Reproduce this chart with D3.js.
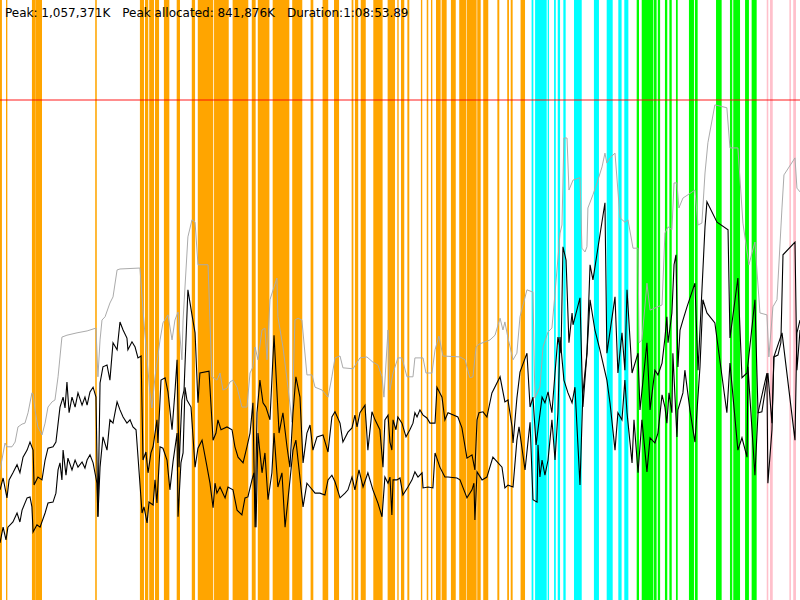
<!DOCTYPE html>
<html><head><meta charset="utf-8">
<script src="https://cdn.jsdelivr.net/npm/d3@7"></script>
<style>html,body{margin:0;padding:0;background:#fff}svg{display:block}</style>
</head><body>
<script>
// time in seconds, memory in thousands of K
const durationSec = 4133.89;
const peakHeap = 1057.371;
const memAxisTop = 1268.85;
const labels = ["Peak: 1,057,371K", "Peak allocated: 841,876K", "Duration:1:08:53.89"];

// GC events [start s, end s]
const youngGC = [[0,10],[31,38],[165,181],[182,217],[492,500],[723,744],[749,766],[771,796],[801,822],[847,875],[913,930],[991,1008],[1022,1102],[1106,1182],[1202,1283],[1301,1321],[1332,1392],[1409,1495],[1510,1562],[1605,1619],[1667,1696],[1726,1752],[1817,1826],[1834,1851],[1864,1890],[1929,1977],[2003,2041],[2053,2060],[2072,2089],[2105,2115],[2175,2182],[2205,2213],[2227,2234],[2253,2277],[2282,2308],[2330,2355],[2373,2408],[2411,2463],[2466,2484],[2497,2523],[2570,2580],[2621,2630],[2639,2649],[2690,2713]];
const mixedGC = [[2747,2756],[2765,2825],[2830,2837],[2863,2872],[2882,2894],[2911,2923],[2966,3006],[3069,3095],[3135,3166],[3195,3212],[3226,3247]];
const concGC = [[3290,3302],[3316,3376],[3379,3393],[3399,3411],[3436,3448],[3459,3471],[3493,3502],[3560,3586],[3591,3605],[3700,3729],[3772,3784],[3789,3824],[3850,3870],[3884,3910]];
const remarkGC = [[3962,3970],[3979,3993],[4079,4087],[4099,4113]];

// committed heap size [t, v]
const heapSize = [[0,275],[26,332],[36,324],[62,324],[78,334],[93,366],[114,372],[129,374],[145,396],[165,438],[171,436],[181,402],[196,366],[217,349],[233,374],[248,408],[269,419],[284,423],[300,472],[320,556],[346,560],[398,565],[450,569],[496,575],[506,472],[517,550],[527,592],[543,599],[568,628],[584,641],[605,698],[620,700],[723,702],[739,613],[760,508],[775,438],[785,406],[801,472],[827,550],[842,586],[868,603],[889,550],[904,592],[920,609],[940,508],[946,592],[971,768],[992,804],[1008,799],[1023,709],[1075,709],[1095,472],[1121,465],[1137,480],[1152,444],[1173,448],[1188,461],[1204,465],[1225,450],[1250,408],[1276,408],[1292,480],[1307,493],[1318,535],[1333,508],[1354,571],[1369,575],[1380,508],[1395,635],[1431,681],[1436,599],[1462,535],[1488,450],[1509,376],[1524,592],[1540,596],[1560,592],[1586,476],[1612,476],[1628,450],[1664,444],[1695,429],[1715,472],[1731,512],[1757,516],[1772,491],[1824,489],[1860,512],[1896,514],[1927,503],[1953,497],[1974,472],[1984,429],[2005,571],[2015,444],[2031,480],[2056,512],[2077,512],[2103,472],[2134,472],[2144,512],[2186,512],[2201,480],[2232,480],[2248,529],[2268,558],[2289,516],[2377,514],[2403,508],[2428,470],[2444,472],[2460,535],[2475,541],[2532,550],[2558,560],[2584,596],[2599,571],[2609,588],[2625,554],[2651,508],[2671,522],[2687,599],[2723,656],[2754,651],[2764,427],[2790,450],[2806,535],[2832,567],[2852,575],[2868,649],[2894,776],[2904,793],[2914,977],[2930,977],[2940,867],[2961,888],[2997,893],[3007,744],[3023,736],[3033,747],[3038,829],[3064,857],[3085,882],[3111,916],[3126,945],[3136,924],[3152,935],[3178,945],[3204,808],[3229,799],[3245,804],[3271,744],[3297,744],[3302,544],[3317,550],[3343,670],[3359,613],[3421,624],[3436,776],[3452,789],[3472,783],[3483,882],[3498,882],[3508,829],[3529,850],[3555,857],[3591,867],[3607,793],[3627,797],[3643,903],[3658,967],[3694,1047],[3756,1041],[3772,956],[3813,956],[3839,797],[3870,709],[3901,757],[3927,607],[3963,603],[3973,514],[3994,620],[4015,635],[4041,831],[4051,899],[4108,935],[4118,871],[4134,863]];

// allocated (used before GC) [t, v]
const allocated = [[0,233],[16,258],[36,216],[47,254],[67,269],[88,286],[103,269],[119,302],[140,317],[155,334],[171,317],[176,243],[196,260],[217,254],[233,296],[248,321],[274,324],[289,334],[310,408],[326,429],[336,406],[346,461],[357,396],[372,429],[388,408],[403,438],[424,412],[439,429],[450,412],[465,440],[481,450],[496,429],[506,176],[517,459],[532,493],[553,497],[568,465],[584,544],[605,529],[620,588],[636,571],[656,554],[661,529],[682,546],[698,535],[713,512],[729,516],[739,296],[754,313],[765,269],[780,311],[791,324],[811,381],[816,332],[832,465],[853,470],[868,440],[889,360],[904,440],[915,508],[925,281],[940,423],[951,444],[971,656],[992,603],[1008,565],[1023,417],[1033,480],[1080,484],[1101,338],[1116,353],[1126,381],[1142,360],[1173,366],[1199,360],[1214,324],[1230,302],[1256,290],[1276,324],[1292,353],[1307,417],[1318,154],[1328,396],[1343,465],[1359,417],[1374,408],[1395,381],[1416,560],[1442,353],[1462,396],[1483,324],[1498,281],[1514,396],[1529,472],[1550,429],[1566,290],[1586,353],[1602,370],[1617,317],[1638,345],[1669,349],[1695,313],[1715,387],[1731,398],[1757,374],[1772,334],[1798,355],[1819,364],[1834,391],[1845,366],[1860,396],[1886,412],[1901,317],[1922,398],[1938,381],[1963,360],[1979,281],[1989,381],[2005,391],[2015,334],[2025,317],[2031,381],[2046,360],[2056,387],[2077,374],[2098,345],[2118,360],[2134,374],[2144,396],[2155,387],[2170,402],[2186,391],[2206,385],[2222,374],[2248,374],[2258,450],[2284,429],[2299,381],[2315,396],[2366,387],[2387,364],[2413,300],[2439,307],[2454,275],[2465,381],[2475,396],[2496,398],[2516,387],[2542,438],[2584,472],[2609,419],[2625,423],[2646,366],[2651,332],[2671,427],[2687,482],[2723,522],[2739,408],[2754,429],[2770,328],[2801,429],[2816,417],[2832,440],[2852,396],[2868,480],[2883,556],[2899,522],[2909,747],[2925,719],[2940,544],[2956,607],[2961,582],[2997,639],[3012,408],[3033,522],[3049,709],[3064,677],[3126,840],[3136,522],[3178,641],[3193,480],[3214,565],[3229,486],[3240,656],[3266,480],[3297,522],[3307,402],[3343,544],[3359,402],[3384,486],[3400,476],[3421,501],[3436,554],[3446,599],[3452,544],[3472,607],[3483,709],[3493,730],[3503,493],[3514,571],[3529,592],[3550,620],[3591,670],[3607,486],[3643,789],[3653,842],[3705,799],[3762,783],[3772,554],[3813,681],[3834,470],[3860,480],[3901,635],[3917,396],[3937,398],[3968,480],[3989,374],[3999,514],[4020,518],[4035,544],[4046,730],[4108,757],[4118,486],[4134,571]];

// used after GC [t, v]
const used = [[0,121],[16,154],[31,127],[41,154],[67,165],[88,184],[103,165],[114,190],[140,216],[155,218],[165,197],[171,144],[191,159],[207,154],[233,184],[248,205],[274,207],[289,226],[300,275],[310,290],[320,254],[326,317],[341,264],[351,300],[372,275],[388,296],[403,281],[424,292],[439,279],[450,296],[465,307],[481,290],[501,247],[506,176],[517,281],[532,345],[553,317],[568,381],[584,374],[605,419],[620,402],[636,387],[656,374],[672,381],[687,366],[703,360],[734,184],[744,197],[760,163],[770,207],[791,201],[801,254],[811,205],[827,324],[842,321],[863,296],[878,233],[894,292],[915,353],[920,176],[935,290],[946,311],[956,450],[966,423],[987,408],[1008,281],[1023,321],[1044,338],[1070,281],[1085,247],[1101,195],[1111,247],[1121,226],[1137,239],[1163,216],[1178,239],[1204,233],[1225,190],[1250,180],[1266,216],[1281,218],[1302,254],[1312,269],[1323,154],[1333,353],[1354,269],[1369,311],[1385,212],[1405,269],[1416,353],[1436,239],[1457,269],[1473,154],[1488,212],[1514,317],[1529,338],[1540,296],[1566,197],[1586,247],[1602,239],[1628,226],[1653,226],[1679,222],[1695,254],[1715,264],[1731,250],[1757,216],[1783,226],[1798,233],[1819,260],[1834,233],[1855,275],[1876,239],[1901,269],[1927,233],[1953,205],[1974,176],[1989,260],[2005,247],[2015,260],[2025,180],[2031,254],[2051,254],[2067,258],[2082,222],[2108,239],[2129,254],[2144,271],[2160,260],[2181,269],[2186,237],[2212,239],[2237,237],[2248,311],[2273,281],[2299,260],[2315,260],[2361,258],[2377,254],[2413,216],[2439,233],[2449,247],[2454,169],[2465,271],[2491,254],[2516,260],[2547,302],[2594,281],[2609,237],[2625,243],[2651,239],[2671,338],[2682,366],[2713,275],[2739,376],[2754,212],[2775,207],[2780,328],[2790,260],[2801,296],[2816,264],[2832,296],[2852,381],[2868,296],[2883,396],[2894,556],[2914,465],[2935,438],[2956,417],[2971,450],[2997,243],[3012,438],[3033,522],[3049,635],[3074,571],[3100,529],[3136,465],[3152,417],[3178,317],[3193,396],[3214,381],[3229,465],[3240,396],[3266,290],[3276,381],[3297,269],[3317,381],[3343,271],[3359,343],[3384,332],[3400,353],[3421,434],[3436,408],[3446,374],[3457,438],[3472,396],[3477,522],[3498,345],[3503,402],[3529,438],[3539,486],[3565,402],[3591,334],[3617,493],[3632,635],[3653,607],[3694,586],[3756,396],[3772,501],[3813,317],[3834,343],[3860,302],[3865,493],[3901,264],[3917,396],[3963,480],[3968,247],[3989,360],[3999,514],[4041,565],[4108,338],[4118,565],[4134,592]];

const W = 800, H = 600;
const svg = d3.select("body").append("svg").attr("width", W).attr("height", H);
const x = d3.scaleLinear().domain([0, durationSec]).range([0, W]);
const y = d3.scaleLinear().domain([0, memAxisTop]).range([H, 0]);

const gcSets = [
  {data: youngGC, color: "#ffa500"},
  {data: mixedGC, color: "#00ffff"},
  {data: concGC, color: "#00ff00"},
  {data: remarkGC, color: "#ffc0cb"}
];
const gBars = svg.append("g");
gcSets.forEach(s => {
  gBars.selectAll(null).data(s.data).enter().append("rect")
    .attr("x", d => x(d[0]))
    .attr("width", d => Math.max(0.6, x(d[1]) - x(d[0])))
    .attr("y", 0).attr("height", H)
    .attr("fill", s.color);
});

const line = d3.line().x(d => x(d[0])).y(d => y(d[1]));
svg.append("path").datum(heapSize).attr("d", line)
  .attr("fill", "none").attr("stroke", "#ababab").attr("stroke-width", 1);
svg.append("path").datum(allocated).attr("d", line)
  .attr("fill", "none").attr("stroke", "#000").attr("stroke-width", 1.1);
svg.append("path").datum(used).attr("d", line)
  .attr("fill", "none").attr("stroke", "#000").attr("stroke-width", 1.1);

svg.append("line").attr("x1", 0).attr("x2", W)
  .attr("y1", y(peakHeap)).attr("y2", y(peakHeap))
  .attr("stroke", "#ff0000").attr("stroke-opacity", 0.6).attr("stroke-width", 1.5);

const txt = svg.append("g").attr("font-family", "DejaVu Sans, Verdana, sans-serif")
  .attr("font-size", 12).attr("fill", "#000");
let tx = 5;
labels.forEach(l => {
  const t = txt.append("text").attr("x", tx).attr("y", 17).text(l);
  tx += t.node().getComputedTextLength() + 12;
});
</script>
</body></html>
